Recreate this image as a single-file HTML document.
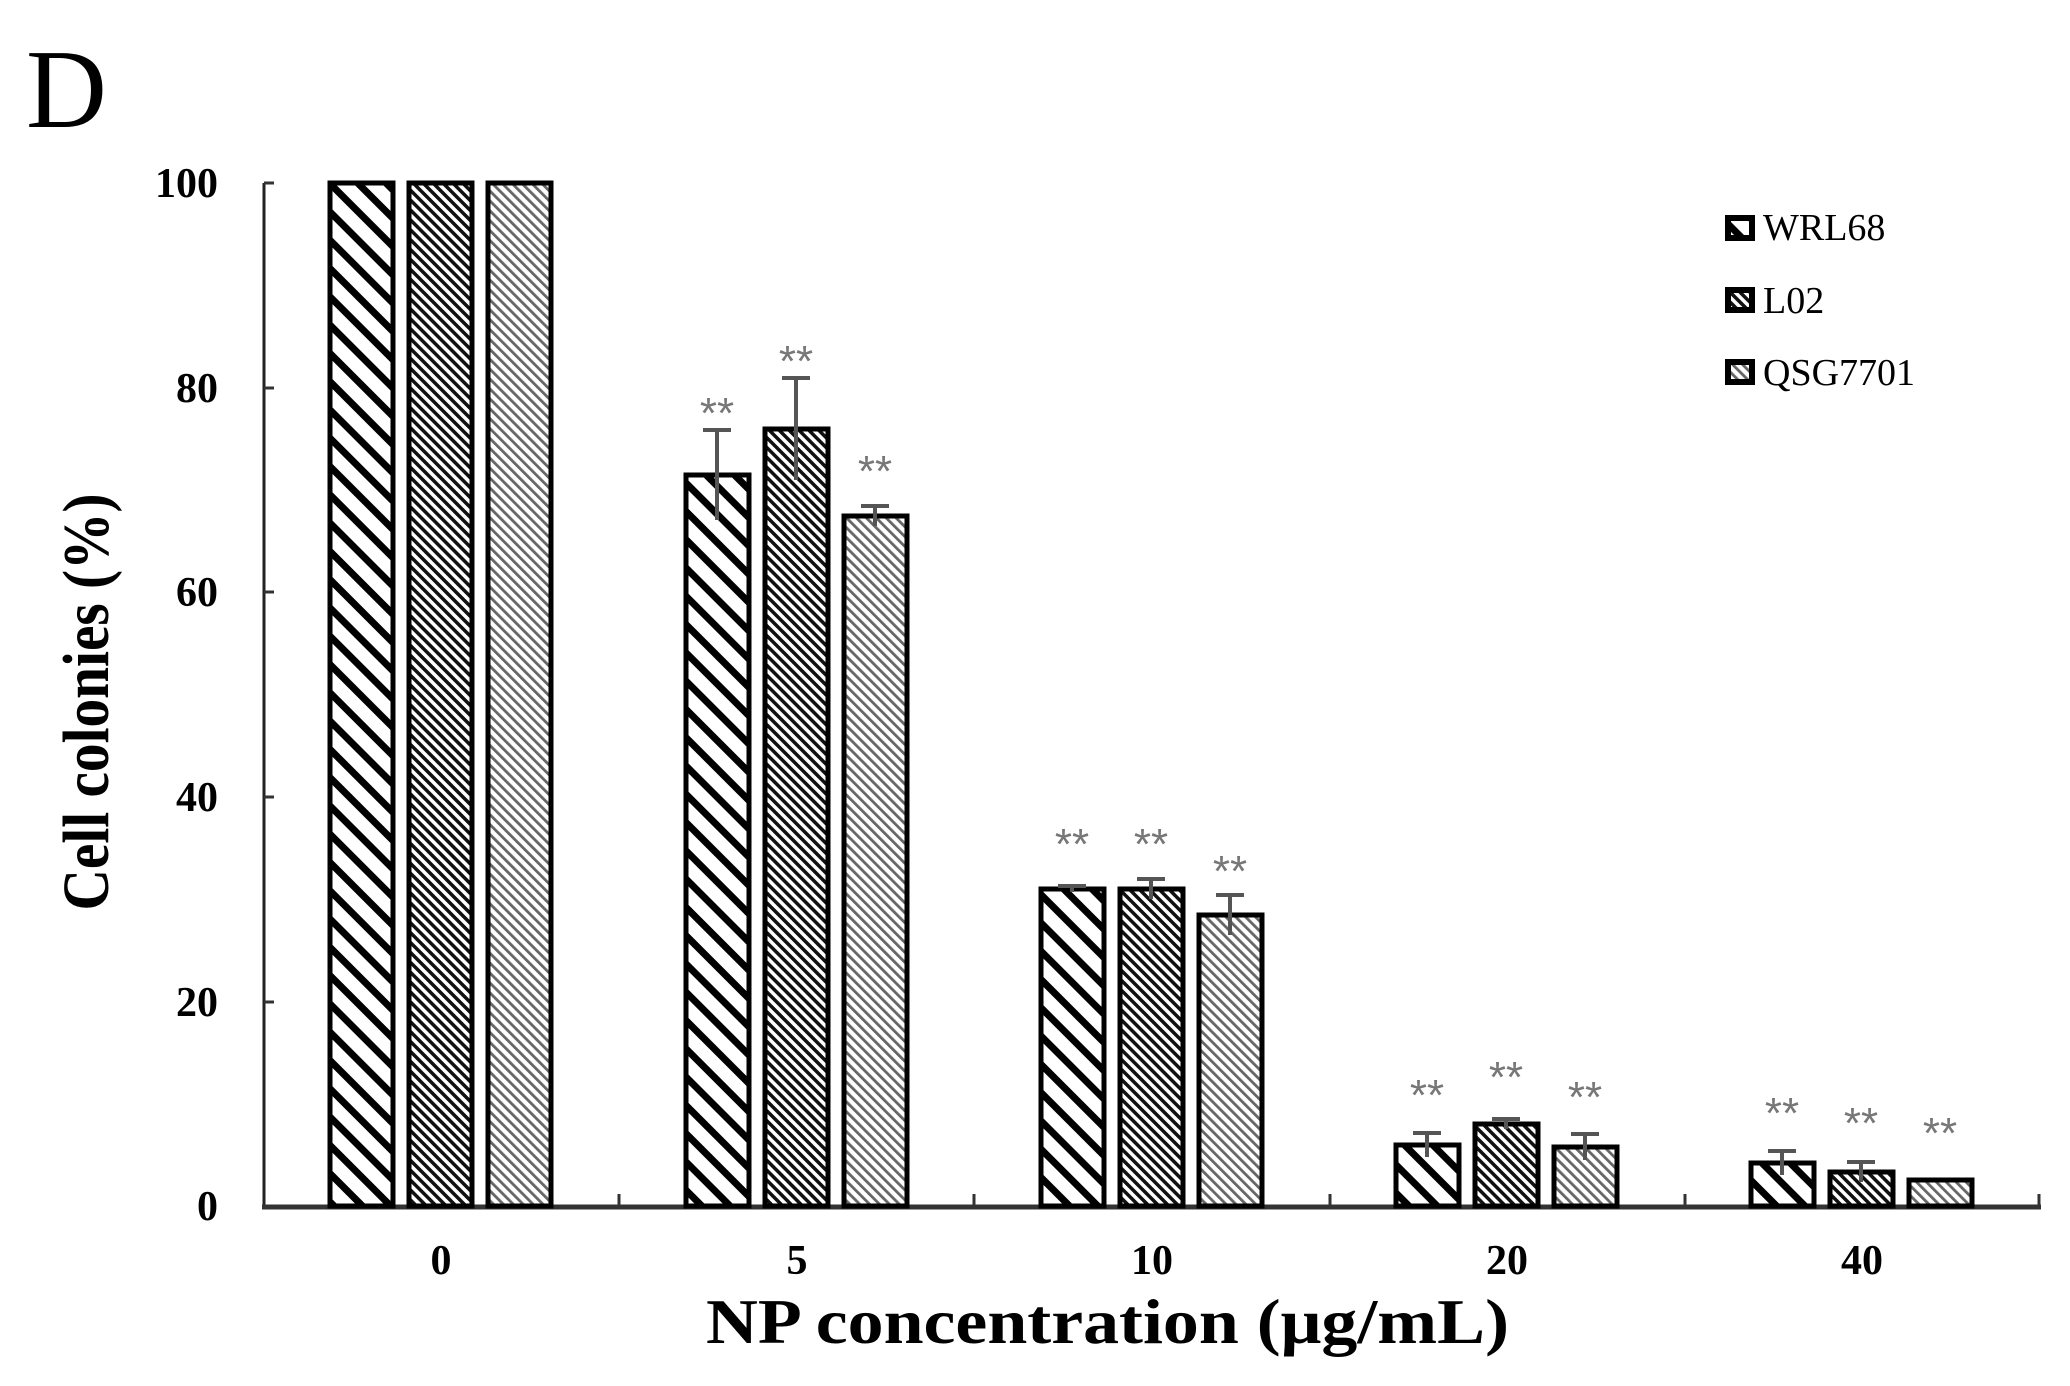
<!DOCTYPE html>
<html><head><meta charset="utf-8"><style>html,body{margin:0;padding:0;background:#fff}svg{display:block}</style></head>
<body>
<svg width="2070" height="1386" viewBox="0 0 2070 1386" xmlns="http://www.w3.org/2000/svg" font-family="Liberation Serif, serif">
<defs>
<pattern id="p1" width="20" height="20" patternUnits="userSpaceOnUse" patternTransform="rotate(-45)">
<rect width="20" height="20" fill="#fff"/><rect x="0" y="0" width="7" height="20" fill="#000"/></pattern>
<pattern id="p2" width="7" height="7" patternUnits="userSpaceOnUse" patternTransform="rotate(-45)">
<rect width="7" height="7" fill="#fff"/><rect x="0" y="0" width="3.5" height="7" fill="#111"/></pattern>
<pattern id="p3" width="7" height="7" patternUnits="userSpaceOnUse" patternTransform="rotate(-45)">
<rect width="7" height="7" fill="#fff"/><rect x="0" y="0" width="2.8" height="7" fill="#666"/></pattern>
</defs>
<text x="26" y="127" font-size="112">D</text>
<line x1="264" y1="183" x2="264" y2="1208" stroke="#222" stroke-width="3"/>
<line x1="262" y1="1207" x2="2041" y2="1207" stroke="#333" stroke-width="5"/>
<g stroke="#333" stroke-width="3">
<line x1="264" y1="183" x2="274" y2="183"/><line x1="264" y1="388" x2="274" y2="388"/>
<line x1="264" y1="592" x2="274" y2="592"/><line x1="264" y1="797" x2="274" y2="797"/>
<line x1="264" y1="1002" x2="274" y2="1002"/>
<line x1="619" y1="1194" x2="619" y2="1207"/><line x1="974" y1="1194" x2="974" y2="1207"/>
<line x1="1330" y1="1194" x2="1330" y2="1207"/><line x1="1685" y1="1194" x2="1685" y2="1207"/>
<line x1="2039" y1="1194" x2="2039" y2="1207"/>
</g>
<g font-size="42" font-weight="bold" text-anchor="end">
<text x="218" y="197">100</text><text x="218" y="402">80</text><text x="218" y="606">60</text>
<text x="218" y="811">40</text><text x="218" y="1016">20</text><text x="218" y="1220">0</text>
</g>
<g font-size="42" font-weight="bold" text-anchor="middle">
<text x="441" y="1274">0</text><text x="797" y="1274">5</text><text x="1152" y="1274">10</text>
<text x="1507" y="1274">20</text><text x="1862" y="1274">40</text>
</g>
<text x="706" y="1343" font-size="64" font-weight="bold" textLength="803" lengthAdjust="spacingAndGlyphs">NP concentration (μg/mL)</text>
<text transform="translate(108,702) rotate(-90)" text-anchor="middle" font-size="66" font-weight="bold" textLength="417" lengthAdjust="spacingAndGlyphs">Cell colonies (%)</text>
<g stroke="#000" stroke-width="5">
<rect x="330" y="183" width="63" height="1023" fill="url(#p1)"/>
<rect x="409" y="183" width="63" height="1023" fill="url(#p2)"/>
<rect x="488" y="183" width="63" height="1023" fill="url(#p3)"/>
<rect x="686" y="475" width="63" height="731" fill="url(#p1)"/>
<rect x="765" y="429" width="63" height="777" fill="url(#p2)"/>
<rect x="844" y="516" width="63" height="690" fill="url(#p3)"/>
<rect x="1041" y="889" width="63" height="317" fill="url(#p1)"/>
<rect x="1120" y="889" width="63" height="317" fill="url(#p2)"/>
<rect x="1199" y="915" width="63" height="291" fill="url(#p3)"/>
<rect x="1396" y="1145" width="63" height="61" fill="url(#p1)"/>
<rect x="1475" y="1124" width="63" height="82" fill="url(#p2)"/>
<rect x="1554" y="1147" width="63" height="59" fill="url(#p3)"/>
<rect x="1751" y="1163" width="63" height="43" fill="url(#p1)"/>
<rect x="1830" y="1172" width="63" height="34" fill="url(#p2)"/>
<rect x="1909" y="1180" width="63" height="26" fill="url(#p3)"/>
</g>
<g stroke="#555" stroke-width="4">
<path d="M717 430V520M703 430H731"/>
<path d="M796 378V480M782 378H810"/>
<path d="M875 506V526M861 506H889"/>
<path d="M1072 886V892M1058 886H1086"/>
<path d="M1151 879V899M1137 879H1165"/>
<path d="M1230 895V935M1216 895H1244"/>
<path d="M1427 1133V1157M1413 1133H1441"/>
<path d="M1506 1119V1129M1492 1119H1520"/>
<path d="M1585 1134V1160M1571 1134H1599"/>
<path d="M1782 1151V1175M1768 1151H1796"/>
<path d="M1861 1162V1182M1847 1162H1875"/>
</g>
<g font-size="44" fill="#777" text-anchor="middle" font-family="Liberation Sans, sans-serif">
<text x="717" y="428">**</text><text x="796" y="376">**</text><text x="875" y="486">**</text>
<text x="1072" y="859">**</text><text x="1151" y="859">**</text><text x="1230" y="886">**</text>
<text x="1427" y="1110">**</text><text x="1506" y="1092">**</text><text x="1585" y="1112">**</text>
<text x="1782" y="1128">**</text><text x="1861" y="1138">**</text><text x="1940" y="1148">**</text>
</g>
<g stroke="#000" stroke-width="6">
<rect x="1728" y="218" width="24" height="20" fill="url(#p1)"/>
<rect x="1728" y="290" width="24" height="20" fill="url(#p2)"/>
<rect x="1728" y="362" width="24" height="20" fill="url(#p3)"/>
</g>
<g font-size="38">
<text x="1763" y="240">WRL68</text><text x="1763" y="313">L02</text><text x="1763" y="385">QSG7701</text>
</g>
</svg>
</body></html>
